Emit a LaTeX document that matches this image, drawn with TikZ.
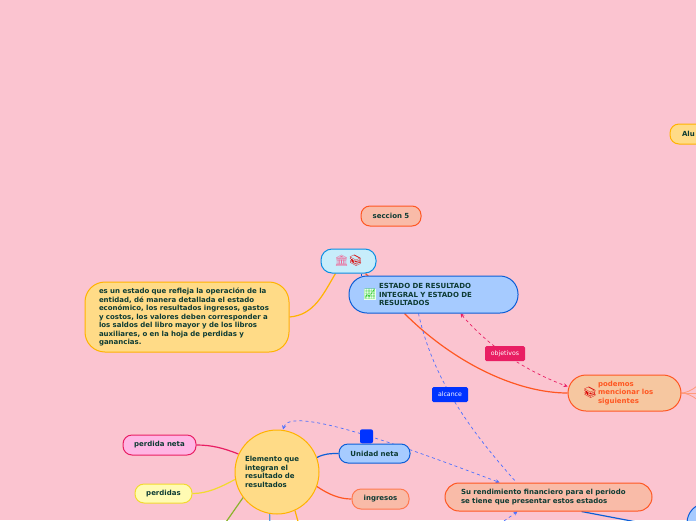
\documentclass[tikz,border=0pt]{standalone}
\usepackage{fontspec}
\setmainfont{DejaVu Sans}
\newfontfamily\emojifont{Noto Emoji}
\usetikzlibrary{arrows.meta, positioning, backgrounds}

\definecolor{pagepink}{HTML}{FBC4D0}
\definecolor{inkgreen}{HTML}{0D3B33}
\definecolor{amberfill}{HTML}{FFDB87}
\definecolor{amberline}{HTML}{FFB300}
\definecolor{bluefill}{HTML}{A6CBFF}
\definecolor{blueline}{HTML}{0B5ED7}
\definecolor{salmonfill}{HTML}{F9BBA8}
\definecolor{salmonline}{HTML}{FF5722}
\definecolor{peachfill}{HTML}{F6C7A0}
\definecolor{strongblue}{HTML}{0033FF}
\definecolor{strongpink}{HTML}{E91E63}
\definecolor{olivebranch}{HTML}{8BB32C}
\definecolor{yellowline}{HTML}{F2DA2E}

\begin{document}
\begin{tikzpicture}[
        x=1pt, y=-1pt,
        mapbox/.style={rectangle, draw, line width=1pt, text=inkgreen, font=\bfseries\fontsize{7}{8.5}\selectfont, align=left, inner ysep=0pt},
        amber/.style={mapbox, draw=amberline, fill=amberfill},
        azul/.style={mapbox, draw=blueline, fill=bluefill},
        salmon/.style={mapbox, draw=salmonline, fill=salmonfill},
        tag/.style={rectangle, rounded corners=1.5pt, text=white, font=\fontsize{6.2}{8}\selectfont, minimum height=15pt, inner sep=0pt},
        branch/.style={line width=1.2pt},
        linkarrow/.style={-{Stealth[length=4pt,width=4pt]}, line width=0.7pt, dash pattern=on 3pt off 3pt},
        bothtips/.style={{Stealth[length=4pt,width=4pt]}-{Stealth[length=4pt,width=4pt]}}
    ]
    \useasboundingbox (0,0) rectangle (696,520);

    \node (seccion_node) [salmon, minimum width=60pt, minimum height=20pt, rounded corners=9pt, align=center] at (391,216) {seccion 5};
    \node (iconos_node) [mapbox, draw=blueline!70!cyan, fill=cyan!22, minimum width=55pt, minimum height=24pt, rounded corners=11pt, align=center] at (348.5,261) {\fontsize{11}{11}\emojifont\textcolor{strongpink!70}{🏛}\textcolor{red!85!black}{📚}};
    \node (estado_node) [azul, text width=109pt, inner xsep=30pt, minimum height=37pt, rounded corners=18pt] at (433.5,294.5) {ESTADO DE RESULTADO\\INTEGRAL Y ESTADO DE\\RESULTADOS};
    \node (grafica_node) [font=\fontsize{10}{10}\emojifont, text=green!60!gray, fill=white!70!green!25, inner sep=0pt] at (370,294.5) {📈};
    \node (descripcion_node) [amber, text width=176pt, inner xsep=14pt, minimum height=70pt, rounded corners=20pt] at (187,317) {es un estado que refleja la operación de la\\entidad, dé manera detallada el estado\\económico, los resultados ingresos, gastos\\y costos, los valores deben corresponder a\\los saldos del libro mayor y de los libros\\auxiliares, o en la hoja de perdidas y\\ganancias.};

    \node (elemento_node) [amber, circle, minimum size=84pt, inner sep=0pt, text width=64pt] at (277,472) {Elemento que\\integran el\\resultado de\\resultados};
    \node (unidad_node) [azul, right=19pt of elemento_node, yshift=18.5pt, minimum width=71pt, minimum height=19pt, rounded corners=9pt, align=center] {Unidad neta};
    \node (marca_node) [above=0pt of unidad_node, xshift=-8pt, fill=strongblue, rounded corners=2pt, minimum width=13pt, minimum height=14pt, inner sep=0pt] {};
    \node (ingresos_node) [salmon, draw=salmonline!80, right=32pt of elemento_node, yshift=-27pt, minimum width=57pt, minimum height=20pt, rounded corners=9pt, align=center] {ingresos};
    \node (perdidaneta_node) [mapbox, draw=strongpink, fill=pink!70!magenta!60, left=38pt of elemento_node, yshift=27pt, minimum width=73pt, minimum height=20pt, rounded corners=9pt, align=center] {perdida neta};
    \node (perdidas_node) [mapbox, draw=yellowline, fill=yellow!30, left=42pt of elemento_node, yshift=-21.5pt, minimum width=57pt, minimum height=19pt, rounded corners=9pt, align=center] {perdidas};

    \node (objetivos_node) [tag, fill=strongpink, minimum width=40pt] at (505,353.5) {objetivos};
    \node (alcance_node) [tag, fill=strongblue, minimum width=36pt] at (450,394.5) {alcance};

    \node (podemos_node) [salmon, fill=peachfill, text=salmonline, text width=53pt, inner xsep=30pt, minimum height=36pt, rounded corners=18pt] at (624.5,393) {podemos\\\mbox{mencionar los}\\siguientes};
    \node (libro_node) [font=\fontsize{11}{11}\emojifont, text=red!85!black, inner sep=0pt] at (590,393) {📚};
    \node (rendimiento_node) [salmon, text width=175pt, inner xsep=16pt, minimum height=28pt, rounded corners=14pt] at (548.5,497) {Su rendimiento financiero para el periodo\\se tiene que presentar estos estados};
    \node (alumno_node) [amber, text width=66pt, inner xsep=12pt, minimum height=20pt, rounded corners=9pt] at (715,134) {Alu};
    \node (azulbajo_node) [azul, minimum width=113pt, minimum height=57pt, rounded corners=20pt] at (743.5,531.5) {};

    \coordinate (verde_end) at (226,522);
    \coordinate (celeste_end) at (270,525);
    \coordinate (naranja_end) at (299,525);
    \coordinate (fan_a) at (700,372);
    \coordinate (fan_b) at (700,393);
    \coordinate (fan_c) at (700,413);
    \coordinate (enlace_start) at (504,521);

    \begin{scope}[on background layer]
    \fill [pagepink] (0,0) rectangle (696,520);

    \draw [branch, amberline] (descripcion_node.east) .. controls +(25,-2) and +(-12,20) .. ([xshift=15pt]iconos_node.south west);
    \draw [branch, blueline] ([xshift=41pt]iconos_node.south west) -- ([xshift=13pt]estado_node.north west);
    \draw [branch, salmonline] ([xshift=45pt]iconos_node.south west) -- ([xshift=21pt,yshift=-2pt]estado_node.north west);
    \draw [branch, salmonline] ([xshift=56pt]estado_node.south west) .. controls +(50,50) and +(-50,0) .. (podemos_node.west);

    \draw [linkarrow, bothtips, strongpink] ([xshift=112pt]estado_node.south west) .. controls +(30,35) and +(-40,-15) .. ([yshift=-12pt]podemos_node.north west);
    \draw [linkarrow, -, strongblue!70] ([xshift=70pt]estado_node.south west) .. controls +(15,70) and +(-40,-45) .. ([xshift=72pt]rendimiento_node.north west);
    \draw [linkarrow, bothtips, strongblue!70] ([xshift=6pt]elemento_node.north) .. controls (290,405) and (400,445) .. ([xshift=55pt]rendimiento_node.north west);
    \draw [linkarrow, strongblue!70] (enlace_start) -- ([xshift=73pt]rendimiento_node.south west);

    \draw [branch, blueline] (elemento_node.20) .. controls +(8,-4) and +(-8,0) .. (unidad_node.west);
    \draw [branch, salmonline] (elemento_node.-20) .. controls +(12,8) and +(-12,0) .. (ingresos_node.west);
    \draw [branch, strongpink] (elemento_node.155) .. controls +(-15,-6) and +(15,0) .. (perdidaneta_node.east);
    \draw [branch, yellowline] (elemento_node.190) .. controls +(-15,8) and +(15,0) .. (perdidas_node.east);
    \draw [branch, olivebranch] (elemento_node.217) -- (verde_end);
    \draw [branch, cyan!60!blue!70] (elemento_node.260) -- (celeste_end);
    \draw [branch, amberline] (elemento_node.295) -- (naranja_end);

    \draw [branch, blueline] ([xshift=137pt]rendimiento_node.south west) -- (azulbajo_node.west);
    \draw [line width=0.8pt, salmonline!60] (podemos_node.east) .. controls +(8,0) and +(8,10) .. (fan_a);
    \draw [line width=0.8pt, salmonline!60] (podemos_node.east) -- (fan_b);
    \draw [line width=0.8pt, salmonline!60] (podemos_node.east) .. controls +(8,0) and +(8,-10) .. (fan_c);
    \end{scope}

\end{tikzpicture}
\end{document}
